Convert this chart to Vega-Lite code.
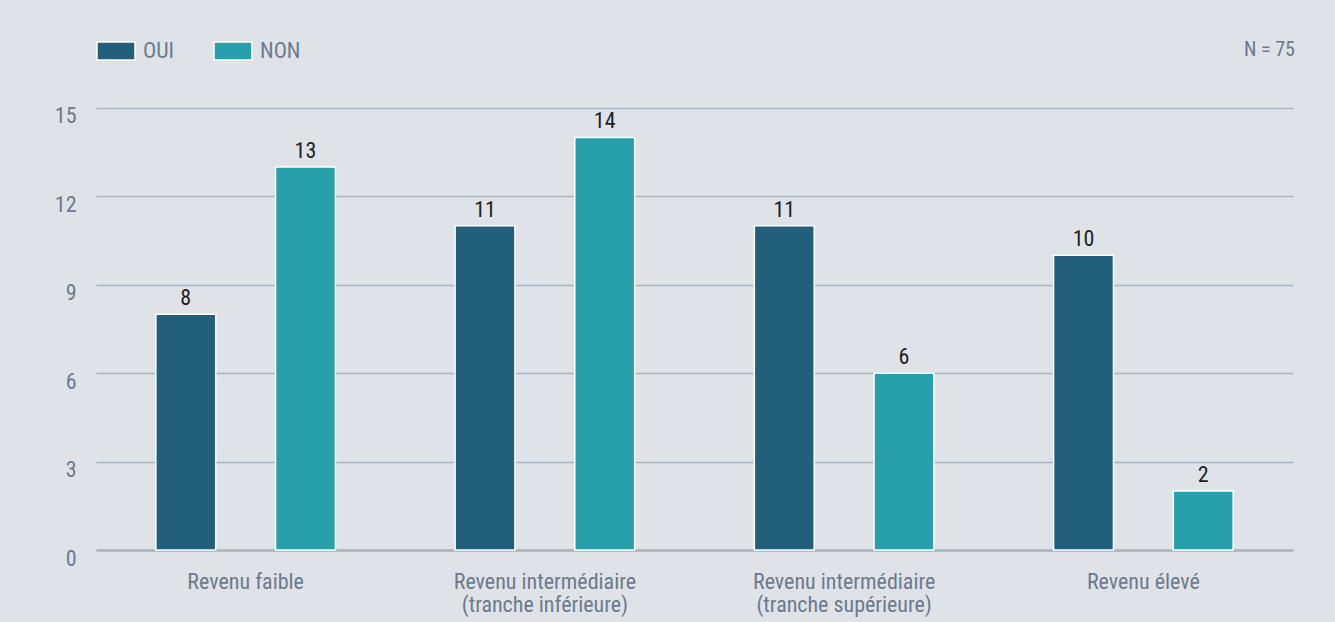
{
  "$schema": "https://vega.github.io/schema/vega-lite/v6.json",
  "autosize": "none",
  "width": 1197,
  "height": 501,
  "padding": {"left": 96, "top": 49, "right": 42, "bottom": 72},
  "background": "#dfe3e8",
  "config": {
    "view": {"stroke": null},
    "font": "Roboto Condensed, DejaVu Sans Condensed, Roboto",
    "text": {"font": "Roboto Condensed, DejaVu Sans Condensed, Roboto"}
  },
  "datasets": {
    "bars": [
      {"revenu": "Revenu faible", "reponse": "OUI", "valeur": 8},
      {"revenu": "Revenu faible", "reponse": "NON", "valeur": 13},
      {"revenu": "Revenu intermédiaire (tranche inférieure)", "reponse": "OUI", "valeur": 11},
      {"revenu": "Revenu intermédiaire (tranche inférieure)", "reponse": "NON", "valeur": 14},
      {"revenu": "Revenu intermédiaire (tranche supérieure)", "reponse": "OUI", "valeur": 11},
      {"revenu": "Revenu intermédiaire (tranche supérieure)", "reponse": "NON", "valeur": 6},
      {"revenu": "Revenu élevé", "reponse": "OUI", "valeur": 10},
      {"revenu": "Revenu élevé", "reponse": "NON", "valeur": 2}
    ],
    "note": [{"label": "N = 75", "niveau": 17}]
  },
  "layer": [
    {
      "data": {"name": "bars"},
      "mark": {"type": "bar", "stroke": "white", "strokeWidth": 1.5},
      "encoding": {
        "x": {
          "field": "revenu", "type": "nominal", "sort": null,
          "scale": {"paddingInner": 0, "paddingOuter": 0},
          "axis": {
            "title": null, "labelAngle": 0, "ticks": false,
            "domainColor": "#a9b4be", "domainWidth": 2.5,
            "labelColor": "#6b7a8e", "labelFontSize": 22, "labelPadding": 31,
            "labelLineHeight": 23, "labelBaseline": "middle", "labelLimit": 300,
            "labelExpr": "indexof(datum.label, ' (') > 0 ? [slice(datum.label, 0, indexof(datum.label, ' (')), slice(datum.label, indexof(datum.label, ' (') + 1)] : datum.label"
          }
        },
        "xOffset": {
          "field": "reponse", "type": "nominal", "sort": ["OUI", "NON"],
          "scale": {"paddingInner": 0.5, "paddingOuter": 0.5}
        },
        "y": {
          "field": "valeur", "type": "quantitative",
          "scale": {"domain": [0, 17], "nice": false},
          "axis": {
            "title": null, "values": [0, 3, 6, 9, 12, 15], "domain": false, "ticks": false,
            "grid": true, "gridColor": "#a9b4be", "gridWidth": 1.5,
            "labelColor": "#6b7a8e", "labelFontSize": 22, "labelPadding": 20, "labelOffset": 8
          }
        },
        "color": {
          "field": "reponse", "type": "nominal",
          "scale": {"domain": ["OUI", "NON"], "range": ["#215f7a", "#28a0ab"]},
          "legend": {
            "title": null, "orient": "none", "legendX": 0, "legendY": -18,
            "direction": "horizontal",
            "symbolType": "M-1,-0.47H1V0.47H-1Z", "symbolSize": 1444,
            "symbolStrokeColor": "white", "symbolStrokeWidth": 1.5, "symbolOpacity": 1,
            "labelColor": "#6b7a8e", "labelFontSize": 22, "labelOffset": 7,
            "columnPadding": 36
          }
        }
      }
    },
    {
      "data": {"name": "bars"},
      "mark": {"type": "text", "baseline": "bottom", "dy": -4, "fontSize": 22, "color": "#1e1e1e"},
      "encoding": {
        "x": {"field": "revenu", "type": "nominal", "sort": null},
        "xOffset": {"field": "reponse", "type": "nominal", "sort": ["OUI", "NON"]},
        "y": {"field": "valeur", "type": "quantitative"},
        "text": {"field": "valeur", "type": "quantitative"}
      }
    },
    {
      "data": {"name": "note"},
      "mark": {"type": "text", "align": "right", "baseline": "middle", "fontSize": 20, "color": "#6b7a8e", "dx": 2, "dy": 1},
      "encoding": {
        "x": {"value": "width"},
        "y": {"field": "niveau", "type": "quantitative"},
        "text": {"field": "label", "type": "nominal"}
      }
    }
  ]
}
